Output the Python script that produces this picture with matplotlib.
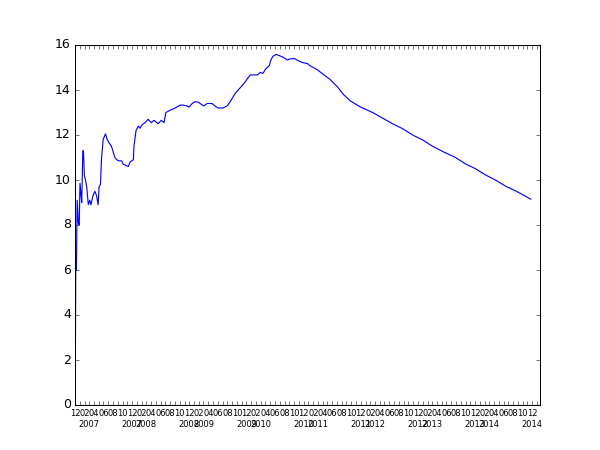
import matplotlib
matplotlib.use('Agg')
import matplotlib.pyplot as plt
import matplotlib.dates as mdates
from matplotlib.ticker import FuncFormatter
import pandas as pd

# dates and values
dates = ['2006-12-03', '2006-12-06', '2006-12-10', '2006-12-15', '2006-12-22', '2006-12-28',
         '2007-01-02', '2007-01-09', '2007-01-13', '2007-01-20', '2007-01-24', '2007-01-30',
         '2007-02-06', '2007-02-14', '2007-02-24', '2007-03-05', '2007-03-13', '2007-03-26',
         '2007-04-07', '2007-04-18', '2007-04-28', '2007-05-04', '2007-05-13', '2007-05-19',
         '2007-05-30', '2007-06-14', '2007-06-25', '2007-07-07', '2007-07-22', '2007-08-02',
         '2007-08-13', '2007-08-24', '2007-09-10', '2007-09-25', '2007-10-06', '2007-10-21',
         '2007-11-07', '2007-11-18', '2007-12-09', '2007-12-13', '2007-12-26', '2008-01-10',
         '2008-01-21', '2008-02-02', '2008-02-22', '2008-03-13', '2008-04-01', '2008-04-19',
         '2008-05-15', '2008-06-04', '2008-06-22', '2008-07-04', '2008-07-31', '2008-09-01',
         '2008-10-04', '2008-10-22', '2008-11-10', '2008-11-30', '2008-12-19', '2009-01-07',
         '2009-01-28', '2009-02-22', '2009-03-04', '2009-03-24', '2009-04-25', '2009-05-13',
         '2009-06-03', '2009-07-04', '2009-07-31', '2009-08-19', '2009-09-20', '2009-10-09',
         '2009-11-04', '2009-11-24', '2009-12-06', '2009-12-25', '2010-01-13', '2010-02-09',
         '2010-02-27', '2010-03-16', '2010-04-06', '2010-04-25', '2010-05-06', '2010-05-19',
         '2010-06-09', '2010-06-21', '2010-07-16', '2010-08-06', '2010-08-18', '2010-09-06',
         '2010-10-02', '2010-10-21', '2010-11-09', '2010-11-29', '2010-12-25', '2011-01-13',
         '2011-02-27', '2011-04-05', '2011-05-19', '2011-07-04', '2011-08-13', '2011-09-25',
         '2011-11-28', '2012-02-15', '2012-04-19', '2012-06-22', '2012-08-25', '2012-10-28',
         '2012-12-31', '2013-03-04', '2013-05-13', '2013-07-29', '2013-09-30', '2013-12-04',
         '2014-02-07', '2014-04-10', '2014-06-13', '2014-08-22', '2014-11-22']
values = [1.5, 6.4, 6.0, 9.1, 8.1, 8.0,
          9.85, 9.3, 9.0, 11.3, 11.3, 10.2,
          10.0, 9.7, 8.9, 9.1, 8.9, 9.3,
          9.5, 9.3, 8.9, 9.7, 9.8, 10.9,
          11.8, 12.05, 11.8, 11.65, 11.5, 11.25,
          11.0, 10.9, 10.85, 10.85, 10.7, 10.65,
          10.6, 10.8, 10.9, 11.5, 12.2, 12.4,
          12.3, 12.45, 12.55, 12.7, 12.55, 12.65,
          12.5, 12.65, 12.55, 13.0, 13.1, 13.2,
          13.33, 13.33, 13.3, 13.24, 13.4, 13.48,
          13.46, 13.33, 13.29, 13.4, 13.4, 13.29,
          13.2, 13.2, 13.3, 13.48, 13.85, 14.0,
          14.2, 14.37, 14.5, 14.67, 14.67, 14.67,
          14.78, 14.74, 14.96, 15.07, 15.33, 15.5,
          15.58, 15.55, 15.48, 15.4, 15.33, 15.38,
          15.4, 15.33, 15.26, 15.21, 15.18, 15.07,
          14.9, 14.7, 14.47, 14.15, 13.8, 13.52,
          13.25, 13.0, 12.75, 12.5, 12.28, 12.0,
          11.78, 11.5, 11.25, 11.0, 10.72, 10.5,
          10.22, 10.0, 9.73, 9.5, 9.15]

plt.style.use('classic')

x = pd.to_datetime(dates)

fig = plt.figure(figsize=(8, 6))
ax = fig.add_subplot(111)
ax.plot(x, values, 'b-', linewidth=1.1)

ax.set_xlim(pd.Timestamp('2006-12-01'), pd.Timestamp('2015-01-20'))
ax.set_ylim(0, 16)


# even months get the month number, year shown under Mar and Dec
def month_label(v, pos):
    d = mdates.num2date(v)
    if d.month == 3:
        return '\n%d' % d.year
    if d.month == 12 and d.year > 2006:
        return '12\n%d' % d.year
    if d.month % 2 == 0:
        return '%02d' % d.month
    return ''


ax.xaxis.set_major_locator(mdates.MonthLocator())
ax.xaxis.set_major_formatter(FuncFormatter(month_label))
ax.tick_params(axis='x', labelsize=8)
ax.tick_params(axis='y', labelsize=12)

fig.savefig('out.png', dpi=75)
